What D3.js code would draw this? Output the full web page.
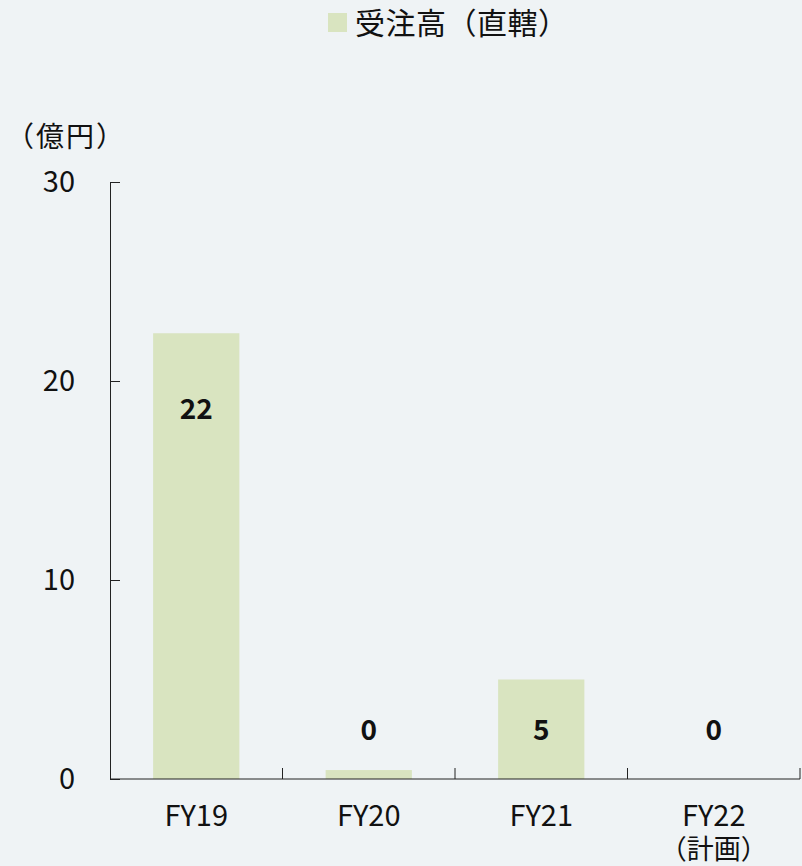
<!DOCTYPE html>
<html>
  <head>
    <meta charset="utf-8">
    <style>
      body { margin: 0; background: #eff3f5; }
      svg { display: block; font-family: "Noto Sans CJK JP", "Noto Sans", sans-serif; }
    </style>
    <title>受注高（直轄）</title>
  </head>
  <body>
  <div id="viz-wrapper"></div>
  <script src="https://cdnjs.cloudflare.com/ajax/libs/d3/7.8.5/d3.min.js" charset="utf-8"></script>
  <script type="text/javascript">

    var categories = ['FY19', 'FY20', 'FY21', 'FY22'];
    var subLabels = ['', '', '', '（計画）'];
    var values = [22.4, 0.45, 5.0, 0];
    var valueLabels = ['22', '0', '5', '0'];
    var yTicks = [0, 10, 20, 30];
    var seriesName = '受注高（直轄）';
    var unitLabel = '（億円）';

    var width = 802, height = 866;
    var mLeft = 110, mRight = 800, mTop = 182, mBottom = 779;
    var ink = '#111';

    var svg = d3.select('#viz-wrapper').append('svg')
                .attr('width', width)
                .attr('height', height);

    svg.append('rect').attr('width', width).attr('height', height).attr('fill', '#eff3f5');

    var x = d3.scaleBand().domain(categories).range([mLeft, mRight]).paddingInner(0.5).paddingOuter(0.25);
    var xb = d3.scaleBand().domain(categories).range([mLeft, mRight]);
    var y = d3.scaleLinear().domain([0, 30]).range([mBottom, mTop]);

    // bars
    svg.selectAll('rect.bar')
       .data(values)
       .enter().append('rect')
       .attr('class', 'bar')
       .attr('x', function(d, i) { return x(categories[i]); })
       .attr('width', x.bandwidth())
       .attr('y', function(d) { return y(d); })
       .attr('height', function(d) { return y(0) - y(d); })
       .attr('fill', '#d9e4c0');

    // value labels (inside tall bars, near the axis for small ones)
    svg.selectAll('text.val')
       .data(values)
       .enter().append('text')
       .attr('class', 'val')
       .attr('x', function(d, i) { return x(categories[i]) + x.bandwidth() / 2; })
       .attr('y', function(d) { return Math.min(y(d) + 76, y(0) - 49); })
       .attr('dy', '0.35em')
       .attr('text-anchor', 'middle')
       .attr('font-size', 28)
       .attr('font-weight', 600)
       .attr('fill', ink)
       .text(function(d, i) { return valueLabels[i]; });

    // y axis, ticks pointing inward
    var yAxis = d3.axisRight(y).tickValues(yTicks).tickSize(10).tickSizeOuter(0).tickFormat('');
    var gy = svg.append('g').attr('transform', 'translate(' + mLeft + ',0)').call(yAxis);
    gy.selectAll('path, line').attr('stroke', '#222');

    svg.selectAll('text.ytick')
       .data(yTicks)
       .enter().append('text')
       .attr('class', 'ytick')
       .attr('x', 75)
       .attr('y', function(d) { return y(d); })
       .attr('dy', '0.35em')
       .attr('text-anchor', 'end')
       .attr('font-size', 29)
       .attr('fill', ink)
       .text(function(d) { return d; });

    // x axis with ticks between categories
    var gx = svg.append('g').attr('transform', 'translate(0,' + mBottom + ')');
    gx.append('line').attr('x1', mLeft).attr('x2', mRight).attr('stroke', '#222');
    gx.selectAll('line.tk')
      .data(categories)
      .enter().append('line')
      .attr('class', 'tk')
      .attr('x1', function(d) { return xb(d) + xb.bandwidth(); })
      .attr('x2', function(d) { return xb(d) + xb.bandwidth(); })
      .attr('y1', 0).attr('y2', -11)
      .attr('stroke', '#222');

    svg.selectAll('text.xl')
       .data(categories)
       .enter().append('text')
       .attr('class', 'xl')
       .attr('x', function(d) { return x(d) + x.bandwidth() / 2; })
       .attr('y', 816)
       .attr('dy', '0.35em')
       .attr('text-anchor', 'middle')
       .attr('font-size', 29)
       .attr('fill', ink)
       .text(function(d) { return d; });

    svg.selectAll('text.xs')
       .data(subLabels)
       .enter().append('text')
       .attr('class', 'xs')
       .attr('x', function(d, i) { return x(categories[i]) + x.bandwidth() / 2; })
       .attr('y', 850)
       .attr('dy', '0.35em')
       .attr('text-anchor', 'middle')
       .attr('font-size', 27)
       .attr('fill', ink)
       .text(function(d) { return d; });

    // unit label
    svg.append('text')
       .attr('x', 6).attr('y', 137).attr('dy', '0.35em')
       .attr('font-size', 28).attr('letter-spacing', 2).attr('fill', ink)
       .text(unitLabel);

    // legend
    svg.append('rect').attr('x', 328).attr('y', 13).attr('width', 19).attr('height', 19).attr('fill', '#d9e4c0');
    svg.append('text')
       .attr('x', 355).attr('y', 23).attr('dy', '0.35em')
       .attr('font-size', 30).attr('letter-spacing', 0.5).attr('fill', ink)
       .text(seriesName);

  </script>
  </body>
</html>
